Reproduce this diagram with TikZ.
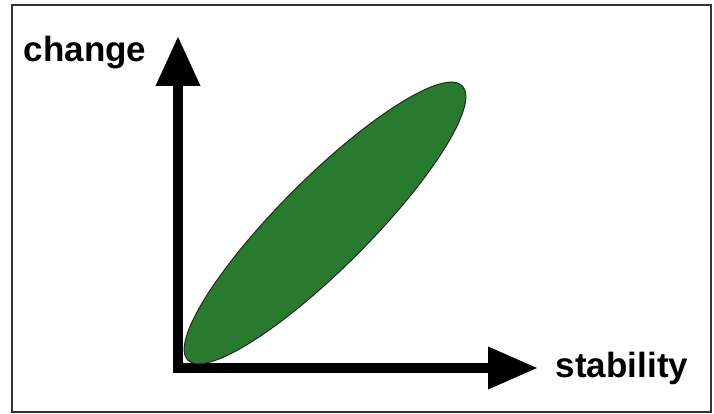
\documentclass[tikz,border=0pt]{standalone}
\usepackage{fontspec}
\setmainfont{Liberation Sans}
\usetikzlibrary{positioning}
\usetikzlibrary{arrows.meta}
\usetikzlibrary{shapes.geometric}
\definecolor{leafgreen}{RGB}{40,122,46}
\tikzset{axis/.style = {line width=10pt, line join=miter,
                        {Triangle[length=50pt,width=42pt]}-{Triangle[length=50pt,width=40pt]}}}
\tikzset{axlabel/.style = {font=\fontsize{35}{40}\selectfont\bfseries, inner sep=0, anchor=base}}
\tikzset{blob/.style = {ellipse, fill=leafgreen, draw=black!85, line width=1pt,
                        minimum width=388pt, minimum height=90pt, inner sep=0}}

\begin{document}
\begin{tikzpicture}[x=1pt, y=1pt]
  \useasboundingbox (0,0) rectangle (714,414);
  % frame
  \draw[line width=1.6pt, black!80] (12,2) rectangle (711,409);

  % axes
  \coordinate (origin) at (178,46);
  \coordinate (ytip) at (178,378);
  \coordinate (xtip) at (538,46);
  \draw[axis] (ytip) -- (origin) -- (xtip);

  % labels
  \node[axlabel] (change) at (85,352) {change};
  \node[axlabel] (stability) at (622,36) {stability};

  % region
  \node[blob, rotate=45] (region) at (325,191) {};
\end{tikzpicture}
\end{document}
